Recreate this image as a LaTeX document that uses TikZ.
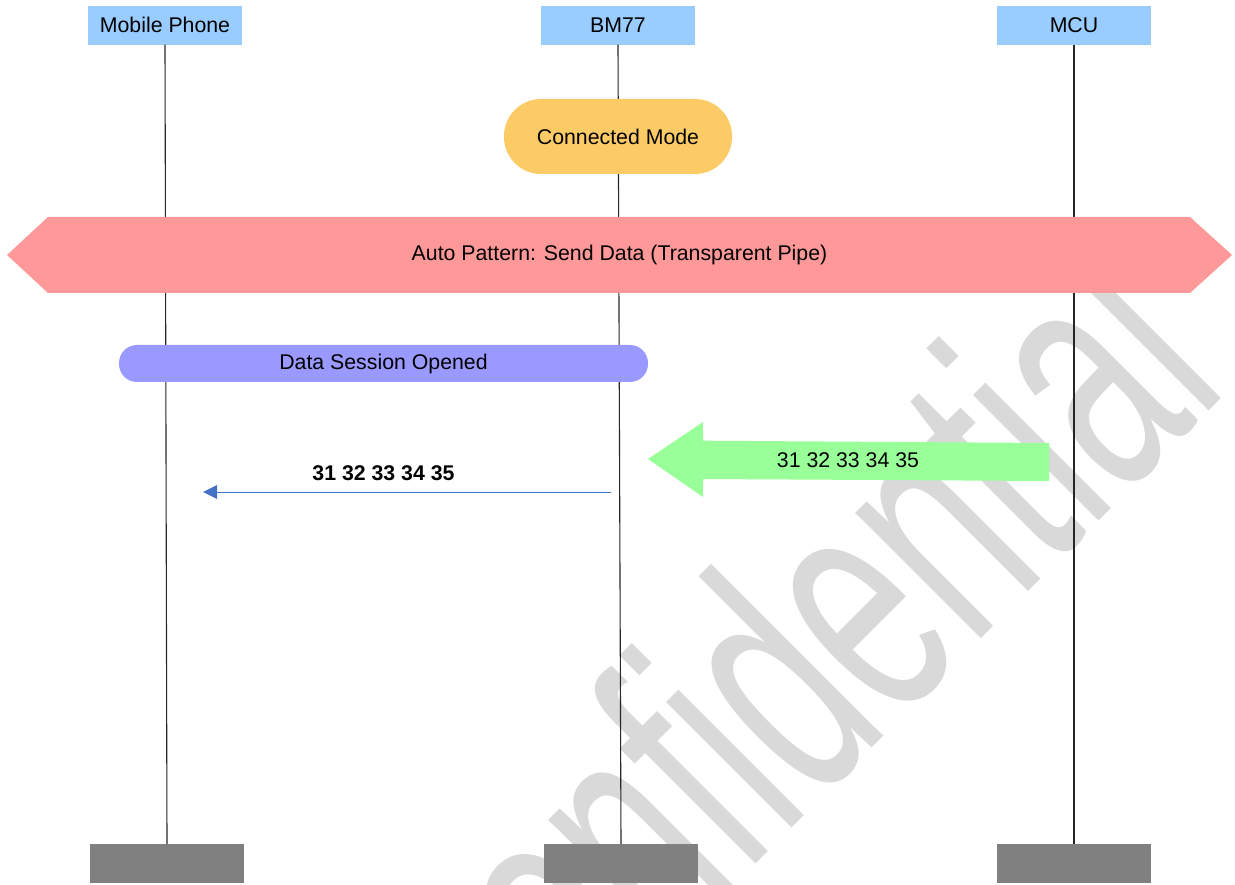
\documentclass[tikz,border=0pt]{standalone}
\usepackage{fontspec}
\usepackage{graphicx}
\setmainfont{Liberation Sans}
\usetikzlibrary{arrows.meta}
\definecolor{headblue}{HTML}{99CCFF}
\definecolor{footgray}{HTML}{808080}
\definecolor{modeorange}{HTML}{FDCB66}
\definecolor{hexred}{HTML}{FF9999}
\definecolor{sessblue}{HTML}{9999FF}
\definecolor{dataGreen}{HTML}{99FF99}
\definecolor{msgblue}{HTML}{4472C4}
\definecolor{wmgray}{HTML}{D9D9D9}
\tikzset{
  every node/.style={font=\fontsize{21.3}{25}\selectfont},
  head/.style={fill=headblue, minimum width=154pt, minimum height=38.5pt, inner sep=0pt},
  foot/.style={fill=footgray, minimum width=154pt, minimum height=38.5pt, inner sep=0pt},
  life/.style={draw=black!85, line width=1.1pt},
  stadium/.style={fill=modeorange, rounded corners=37pt, minimum width=228pt, minimum height=75pt, inner sep=0pt},
  session/.style={fill=sessblue, rounded corners=18pt, minimum width=529pt, minimum height=37pt, inner sep=0pt},
  msg/.style={draw=msgblue, line width=1pt, -{Triangle[length=14pt,width=13.6pt]}},
  lbl/.style={inner sep=0pt}
}
\begin{document}
\begin{tikzpicture}[x=1pt,y=-1pt]
\useasboundingbox (0,0) rectangle (1235,885);
% watermark
\node[rotate=45, anchor=base east, inner sep=0pt, text=wmgray] (wm) at (1231,389)
  {\scalebox{1}[1.68]{\fontsize{200}{200}\selectfont Confidential}};
% heads and feet
\node[head] (mp) at (165,25.3) {Mobile Phone};
\node[head] (bm) at (618,25.3) {BM77};
\node[head] (mcu) at (1074,25.3) {MCU};
\node[foot] (mpf) at (167,863.5) {};
\node[foot] (bmf) at (621,863.5) {};
\node[foot] (mcuf) at (1074,863.5) {};
% lifelines
\draw[life] (mp.south) -- (mpf.north);
\draw[life] (bm.south) -- (bmf.north);
\draw[life] (mcu.south) -- (mcuf.north);
% connected mode
\node[stadium] (cm) at (618,136.5) {Connected Mode};
% hexagon band
\fill[hexred] (7,255) -- (48,217) -- (1190,217) -- (1232,255) -- (1190,293) -- (48,293) -- cycle;
\node[lbl] (ap) at (619.5,255) {Auto Pattern: Send Data (Transparent Pipe)};
% data session
\node[session] (ds) at (383.5,363.5) {Data Session Opened};
% green block arrow
\fill[dataGreen] (648,459) -- (703,422) -- (703,440.7) -- (1049,443) -- (1049,481) -- (703,479) -- (703,497) -- cycle;
\node[lbl] (gl) at (848,460) {31 32 33 34 35};
% blue message
\coordinate (bs) at (611,492);
\coordinate (be) at (203,492);
\draw[msg] (bs) -- (be);
\node[lbl, font=\fontsize{21.3}{25}\selectfont\bfseries] (bl) at (383.5,473) {31 32 33 34 35};
\end{tikzpicture}
\end{document}
